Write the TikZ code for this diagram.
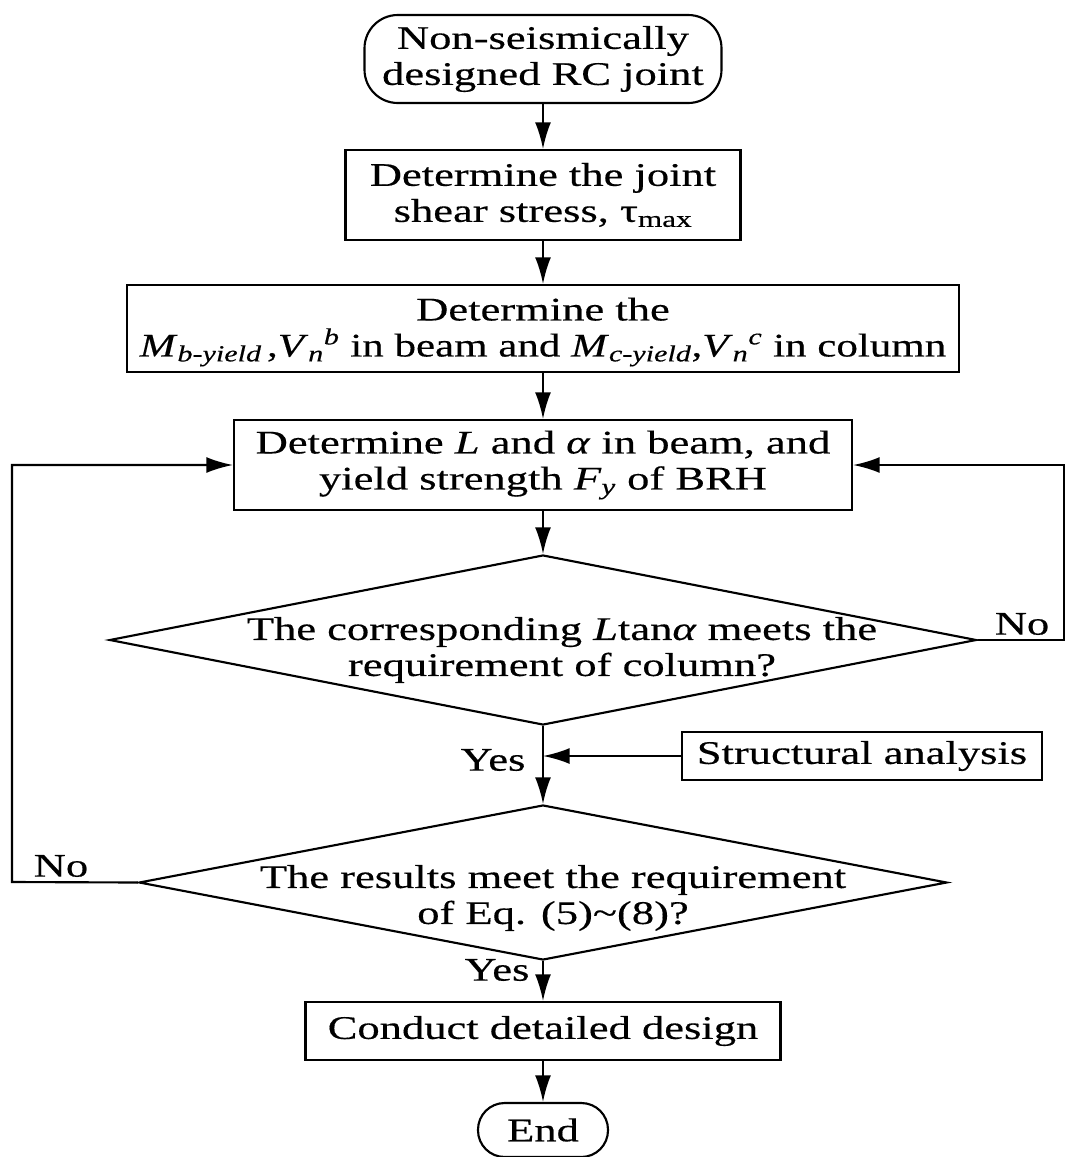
\documentclass[tikz,border=0pt]{standalone}
\usepackage{fontspec}
\usepackage{graphicx}
\setmainfont{Liberation Serif}[FakeStretch=1.35,FakeBold=0.4]
\usetikzlibrary{shapes.geometric,arrows.meta}
\begin{document}
\begin{tikzpicture}[x=0.75pt,y=-0.75pt,
  every node/.style={font=\fontsize{24.75pt}{27pt}\selectfont, align=center, inner sep=0pt},
  proc/.style={draw, line width=1.6pt},
  term/.style={draw, line width=1.6pt},
  dec/.style={draw, diamond, line width=1.6pt, line join=miter},
  arr/.style={line width=1.6pt, -{Latex[length=20pt,width=12pt]}}]
\useasboundingbox (0,0) rectangle (1066,1157);

\node[term, minimum width=267.75pt, minimum height=66pt, rounded corners=25pt] (start) at (543,59) {Non-seismically\\designed RC joint};
\node[proc, minimum width=296.25pt, minimum height=67.5pt] (b1) at (543,195) {Determine the joint\\shear stress, τ\textsubscript{max}};
\node[proc, minimum width=624pt, minimum height=65.25pt] (b2) at (543,328.5) {};
\node (t2a) at (543,332) {Determine the\\\scalebox{0.965}[1]{\textit{M}\textsubscript{\textit{b-yield}}\,,\textit{V}\textsubscript{\textit{n}}\textsuperscript{\textit{b}} in beam and \textit{M}\textsubscript{\textit{c-yield}},\textit{V}\textsubscript{\textit{n}}\textsuperscript{\textit{c}} in column}};
\node[proc, minimum width=463.5pt, minimum height=67.5pt] (b3) at (543,465) {Determine \textit{L} and \textit{α} in beam, and\\yield strength \textit{F}\textsubscript{\textit{y}} of BRH};
\node[dec, minimum width=650.25pt, minimum height=127.5pt] (d1) at (543,640) {};
\node (t1) at (562,650) {The corresponding \textit{L}tan\textit{α} meets the\\requirement of column?};
\node[proc, minimum width=270pt, minimum height=36pt] (sa) at (862,756) {Structural analysis};
\node[dec, minimum width=606pt, minimum height=116.25pt] (d2) at (543,882.5) {};
\node (t2) at (553,898) {The results meet the requirement\\of Eq. (5)\textasciitilde(8)?};
\node[proc, minimum width=356.25pt, minimum height=43.5pt] (b4) at (543,1031) {Conduct detailed design};
\node[term, minimum width=97.5pt, minimum height=40.5pt, rounded corners=20pt] (end) at (543,1130) {End};

\node (y1) at (493,760) {Yes};
\node (y2) at (497,970) {Yes};
\node (n1) at (1022,624) {No};
\node (n2) at (61,866) {No};

\coordinate (rc) at (1064,640);
\coordinate (lc) at (12,882);

\draw[arr] (start) -- (b1);
\draw[arr] (b1) -- (b2);
\draw[arr] (b2) -- (b3);
\draw[arr] (b3) -- (d1);
\draw[arr] (d1) -- (d2);
\draw[arr] (d2) -- (b4);
\draw[arr] (b4) -- (end);
\draw[arr] (sa.west) -- (sa.west -| d1.south);
\draw[arr] (d1.east) -- (rc) |- (b3.east);
\draw[arr] (d2.west) -- (lc) |- (b3.west);
\end{tikzpicture}
\end{document}
